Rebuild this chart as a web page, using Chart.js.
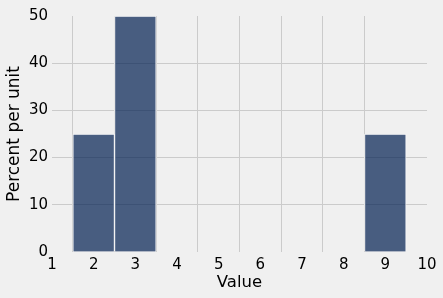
<!DOCTYPE html>
<html><head><meta charset="utf-8">
<script src="https://cdn.jsdelivr.net/npm/chart.js@4"></script>
<style>html,body{margin:0;padding:0;background:#f0f0f0;}#w{width:443px;height:298px;}</style>
</head><body><div id="w"><canvas id="c"></canvas></div>
<script>
const binCenters = [2, 3, 4, 5, 6, 7, 8, 9];
const percentPerUnit = [25, 50, 0, 0, 0, 0, 0, 25];
const xTicks = [1, 2, 3, 4, 5, 6, 7, 8, 9, 10];
const yTicks = [0, 10, 20, 30, 40, 50];

Chart.defaults.font.family = "'DejaVu Sans', sans-serif";
Chart.defaults.color = '#000';
const innerGrid = n => ctx => (ctx.index === 0 || ctx.index === n - 1) ? 'rgba(0,0,0,0)' : '#cbcbcb';
new Chart(document.getElementById('c'), {
  type: 'bar',
  data: {
    datasets: [{
      data: binCenters.map((x, i) => ({x: x, y: percentPerUnit[i]})),
      backgroundColor: 'rgba(0,30,80,0.7)',
      borderColor: 'rgba(255,255,255,0.75)',
      borderWidth: 1,
      borderSkipped: 'bottom',
      barPercentage: 1,
      categoryPercentage: 1
    }]
  },
  options: {
    responsive: true, maintainAspectRatio: false, animation: false,
    layout: {padding: {top: 16, right: 16, left: 0, bottom: 0}},
    plugins: {legend: {display: false}, tooltip: {enabled: false}},
    scales: {
      x: {
        type: 'linear', min: xTicks[0], max: xTicks[xTicks.length - 1], offset: false,
        afterBuildTicks: s => { s.ticks = xTicks.map(v => ({value: v})); },
        afterFit: s => { s.height = 46; },
        grid: {color: innerGrid(xTicks.length), lineWidth: 1, drawTicks: false},
        border: {display: false},
        ticks: {font: {size: 15}, padding: 4, maxRotation: 0},
        title: {display: true, text: 'Value', font: {size: 16.5}, padding: {top: 0, bottom: 5}}
      },
      y: {
        min: yTicks[0], max: yTicks[yTicks.length - 1],
        afterBuildTicks: s => { s.ticks = yTicks.map(v => ({value: v})); },
        afterFit: s => { s.width = 52; },
        grid: {color: innerGrid(yTicks.length), lineWidth: 1, drawTicks: false},
        border: {display: false},
        ticks: {font: {size: 15}, padding: 4},
        title: {display: true, text: 'Percent per unit', font: {size: 17}, padding: {top: 4, bottom: 0}}
      }
    }
  }
});
</script></body></html>
